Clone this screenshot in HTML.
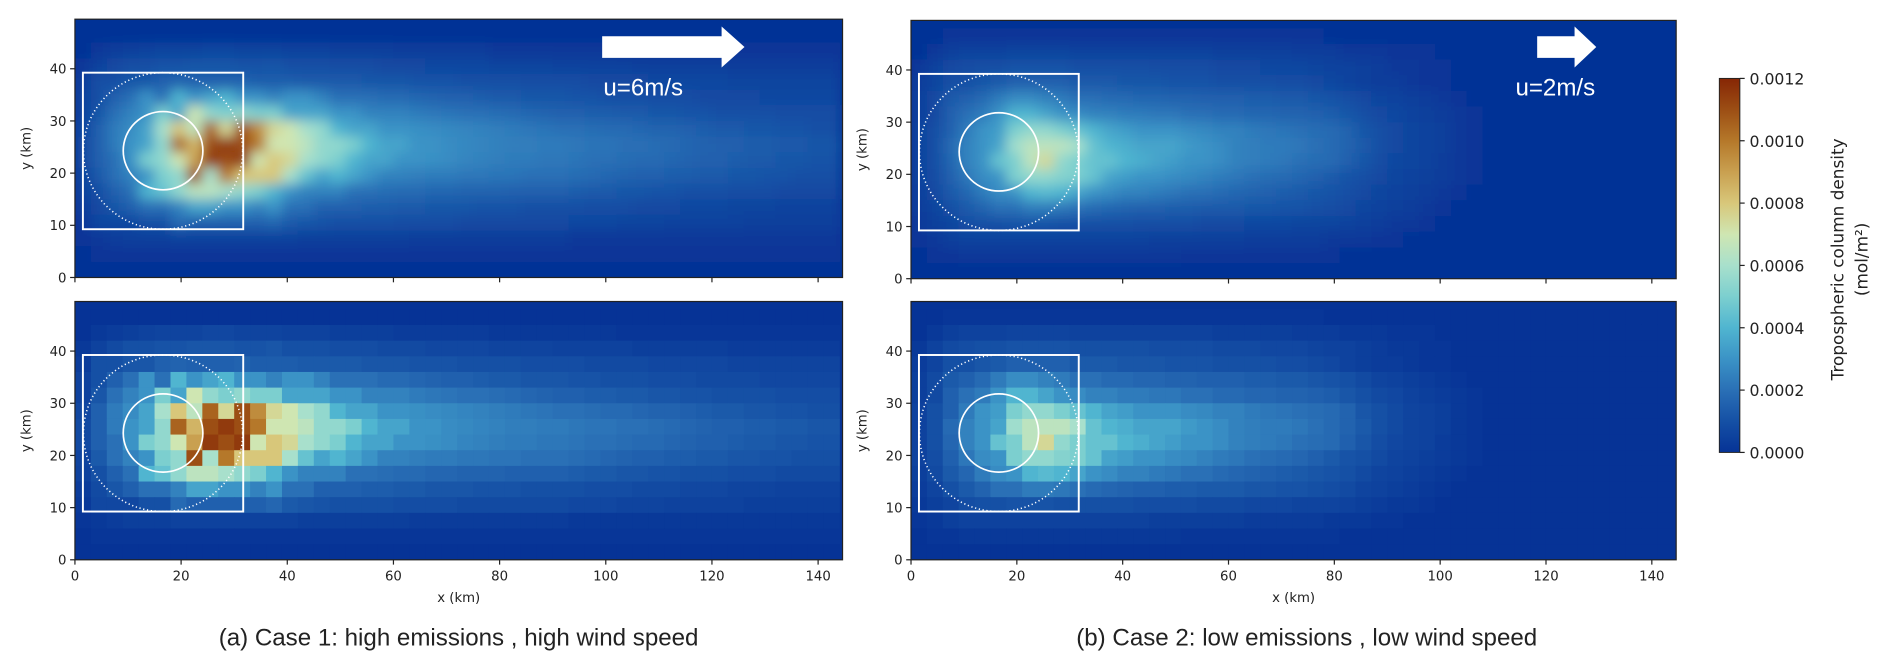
<!DOCTYPE html>
<html><head><meta charset="utf-8">
<style>
html,body{margin:0;padding:0;background:#fff;}
svg{display:block;}
text{font-family:"DejaVu Sans","Liberation Sans",sans-serif;}
</style></head>
<body>
<svg id="fig" width="1892" height="672" viewBox="0 0 1568 557" xmlns="http://www.w3.org/2000/svg">
<defs>
<filter id="smooth" x="-20%" y="-30%" width="140%" height="160%"><feGaussianBlur stdDeviation="5" edgeMode="duplicate"/></filter>
<linearGradient id="cbgrad" x1="0" y1="1" x2="0" y2="0">
<stop offset="0" stop-color="#063396"/><stop offset="0.0833" stop-color="#1550a5"/><stop offset="0.1667" stop-color="#2a70b6"/><stop offset="0.25" stop-color="#3b93c6"/><stop offset="0.3333" stop-color="#50b5d0"/><stop offset="0.4167" stop-color="#7ccfcf"/><stop offset="0.5" stop-color="#a8e0cc"/><stop offset="0.5833" stop-color="#cfe6b2"/><stop offset="0.6667" stop-color="#d8c77a"/><stop offset="0.75" stop-color="#c9a050"/><stop offset="0.8333" stop-color="#b5782a"/><stop offset="0.9167" stop-color="#9c4e14"/><stop offset="1" stop-color="#862605"/>
</linearGradient>
</defs>
<g id="plots"></g>
<g>
<rect x="1425" y="65" width="17" height="310" fill="url(#cbgrad)" stroke="#222" stroke-width="0.8"/>
<g id="cbticks"></g>
<text transform="translate(1528,215) rotate(-90)" text-anchor="middle" font-size="14" fill="#222">Tropospheric column density</text>
<text transform="translate(1548,215) rotate(-90)" text-anchor="middle" font-size="14" fill="#222">(mol/m²)</text>
</g>
<text x="380" y="535" text-anchor="middle" font-size="20" fill="#222" style="font-family:'Liberation Sans',sans-serif">(a) Case 1: high emissions , high wind speed</text>
<text x="1083" y="535" text-anchor="middle" font-size="20" fill="#222" style="font-family:'Liberation Sans',sans-serif">(b) Case 2: low emissions , low wind speed</text>
</svg>
<script>
// Column density grids in units of 1e-4 mol/m^2, 3 km cells; rows listed top (y=45-48) to bottom (y=0-3)
const case1Rows = [
"0 0 0 0 0 0 0 0 0 0 0 0 0 0 0 0 0 0 0 0 0 0 0 0 0 0 0 0 0 0 0 0 0 0 0 0 0 0 0 0 0 0 0 0 0 0 0 0",
"0 0.2 0.3 0.4 0.5 0.6 0.6 0.6 0.7 0.7 0.6 0.6 0.6 0.5 0.5 0.5 0.4 0.4 0.4 0.4 0.3 0.3 0.3 0.3 0.3 0.3 0.2 0.2 0.2 0.2 0.2 0.2 0.2 0.2 0.1 0.1 0.1 0.1 0.1 0.1 0.1 0.1 0.1 0.1 0.1 0.1 0.1 0.1",
"0.2 0.5 0.8 1 1 1.1 1.1 1.2 1.2 1.2 1.1 1.1 1.2 1 1 1 0.9 0.9 0.9 0.8 0.8 0.8 0.7 0.7 0.7 0.7 0.6 0.6 0.6 0.6 0.5 0.5 0.5 0.5 0.5 0.4 0.4 0.4 0.4 0.4 0.4 0.3 0.3 0.3 0.3 0.3 0.3 0.3",
"0.3 1 1 1.2 1.2 1.5 1.6 1.5 1.5 1.5 1.6 1.4 1.4 1.4 1.3 1.3 1.3 1.3 1.2 1.2 1.2 1.1 1.1 1.1 1 1 1 1 0.9 0.9 0.9 0.9 0.8 0.8 0.8 0.8 0.7 0.7 0.7 0.7 0.7 0.6 0.6 0.6 0.6 0.6 0.6 0.6",
"0.5 1 1.5 2 3 2 4 3 3.5 4 3 3 2.5 3 3 2.5 2 2 2 1.8 1.8 1.7 1.6 1.5 1.5 1.4 1.3 1.3 1.2 1.2 1.2 1.1 1.1 1 1 1 0.9 0.9 0.9 0.8 0.8 0.8 0.8 0.7 0.7 0.7 0.7 0.7",
"0.5 1.2 2 2.5 3 5 3.5 7 5.5 5 5.5 5 5 3.5 3.5 3.5 3 3 2.5 2.5 2.5 2.3 2.2 2.1 2 2 1.9 1.8 1.7 1.6 1.5 1.5 1.4 1.4 1.3 1.3 1.2 1.2 1.1 1.1 1 1 1 1 0.9 0.9 0.9 0.9",
"0.7 1.5 2.3 2.8 3.5 6 8 6.5 10.5 7.5 11 9.5 7.5 7 6 5.5 4 3.5 3.5 3 3 2.9 2.8 2.7 2.6 2.5 2.4 2.3 2.2 2.1 2 2 1.9 1.8 1.8 1.7 1.6 1.6 1.5 1.4 1.3 1.3 1.2 1.2 1.1 1.1 1 1",
"0.8 1.5 2.3 3 3.5 5.5 10.5 8.5 11 11.5 11 10 7 7 6.5 5.5 5.5 5 4 3.5 3.5 3 3 2.8 2.7 2.6 2.5 2.4 2.4 2.3 2.3 2.2 2.1 2.1 2 2 1.9 1.8 1.7 1.6 1.5 1.5 1.4 1.4 1.3 1.3 1.2 1.2",
"0.8 1.5 2 3 5 5.5 7 9 11.5 11 11.5 7 8 7.5 6 5.5 5 4 3.5 3.5 3 3 2.9 2.8 2.6 2.5 2.4 2.3 2.3 2.2 2.2 2.1 2 2 1.9 1.8 1.8 1.7 1.6 1.5 1.5 1.4 1.3 1.3 1.2 1.2 1.1 1.1",
"0.6 1.3 2 2.5 3 5 5.5 11 6 10 8 8 8 6 4.5 3.5 4 3.5 3 2.5 2.5 2.4 2.3 2.3 2.2 2.2 2.1 2.1 2 2 2 1.9 1.8 1.7 1.6 1.5 1.5 1.4 1.4 1.3 1.3 1.2 1.2 1.1 1.1 1 1 1",
"0.5 1 1.5 2 4 4.5 5.5 6.5 6.5 6 5.5 5 4 3 2.5 2.5 2.5 2 2 1.9 1.8 1.8 1.7 1.7 1.6 1.6 1.6 1.5 1.5 1.5 1.5 1.4 1.3 1.3 1.2 1.2 1.1 1.1 1 1 1 0.9 0.9 0.9 0.8 0.8 0.8 0.8",
"0.3 0.8 1.2 1.5 2 2 2.5 3.5 3.5 3 3 2.5 3 2 2 1.5 1.5 1.5 1.4 1.4 1.3 1.3 1.2 1.2 1.2 1.1 1.1 1.1 1 1 1 1 0.9 0.9 0.9 0.8 0.8 0.8 0.7 0.7 0.7 0.6 0.6 0.6 0.5 0.5 0.5 0.5",
"0.2 0.7 0.7 0.7 1 1 1.8 1.5 1.5 1.5 1.5 1.5 1.7 1.3 1.2 1.1 1 1 1 1 0.9 0.9 0.9 0.9 0.8 0.8 0.8 0.8 0.8 0.8 0.8 0.7 0.7 0.7 0.6 0.6 0.6 0.5 0.5 0.5 0.5 0.5 0.4 0.4 0.4 0.4 0.4 0.4",
"0.1 0.2 0.3 0.4 0.4 0.4 0.5 0.5 0.5 0.5 0.5 0.5 0.5 0.5 0.4 0.4 0.4 0.4 0.4 0.4 0.4 0.3 0.3 0.3 0.3 0.3 0.3 0.3 0.3 0.3 0.3 0.2 0.2 0.2 0.2 0.2 0.2 0.2 0.2 0.2 0.2 0.2 0.2 0.2 0.2 0.2 0.2 0.2",
"0 0.1 0.1 0.1 0.1 0.1 0.1 0.1 0.1 0.1 0.1 0.1 0.1 0.1 0.1 0.1 0.1 0.1 0.1 0.1 0.1 0.1 0.1 0.1 0.1 0.1 0.1 0.1 0.1 0.1 0.1 0.1 0.1 0.1 0.1 0.1 0.1 0.1 0.1 0.1 0.1 0.1 0.1 0.1 0.1 0.1 0.1 0.1",
"0 0 0 0 0 0 0 0 0 0 0 0 0 0 0 0 0 0 0 0 0 0 0 0 0 0 0 0 0 0 0 0 0 0 0 0 0 0 0 0 0 0 0 0 0 0 0 0"
];
const case2Rows = [
"0 0 0.1 0.1 0.1 0.1 0.1 0.1 0.1 0.1 0.1 0.1 0.1 0.1 0.1 0.1 0.1 0.1 0.1 0.1 0.1 0.1 0.1 0.1 0.1 0.1 0 0 0 0 0 0 0 0 0 0 0 0 0 0 0 0 0 0 0 0 0 0",
"0 0.2 0.4 0.5 0.5 0.5 0.6 0.6 0.6 0.6 0.5 0.5 0.5 0.5 0.5 0.5 0.5 0.5 0.5 0.4 0.4 0.4 0.4 0.4 0.3 0.3 0.3 0.2 0.2 0.2 0.1 0.1 0.1 0 0 0 0 0 0 0 0 0 0 0 0 0 0 0",
"0.2 0.5 0.8 0.9 1 1 1.1 1.1 1.1 1.1 1 1 1 1 1 0.9 0.9 0.9 0.9 0.8 0.8 0.8 0.7 0.7 0.7 0.6 0.5 0.5 0.4 0.3 0.2 0.2 0.1 0.1 0 0 0 0 0 0 0 0 0 0 0 0 0 0",
"0.3 0.6 1 1 1.2 1.3 1.5 1.5 1.5 1.5 1.3 1.3 1.3 1.2 1.2 1.2 1.1 1.1 1.1 1 1 1 1 0.9 0.9 0.8 0.7 0.5 0.4 0.3 0.3 0.2 0.1 0.1 0 0 0 0 0 0 0 0 0 0 0 0 0 0",
"0.4 0.8 1.3 1.5 1.8 2.3 2.8 2.8 2.5 2.3 2 2 1.8 1.8 1.7 1.7 1.6 1.6 1.5 1.5 1.5 1.4 1.4 1.3 1.3 1.2 1.1 1 0.8 0.6 0.5 0.4 0.3 0.2 0.1 0 0 0 0 0 0 0 0 0 0 0 0 0",
"0.4 0.8 1.5 2 2.3 3 4 4 3.5 3 2.8 2.5 2.5 2.3 2.3 2.2 2.2 2 2 1.8 1.8 1.7 1.7 1.6 1.6 1.5 1.4 1.2 1 0.8 0.7 0.5 0.4 0.3 0.2 0.1 0 0 0 0 0 0 0 0 0 0 0 0",
"0.5 1 1.5 2.3 3 3.3 5 5.5 5.5 5 4.5 4 3.5 3.3 3 3 3 2.8 2.7 2.5 2.5 2.3 2.2 2.1 2 1.9 1.8 1.6 1.2 1 0.8 0.6 0.5 0.4 0.2 0.1 0 0 0 0 0 0 0 0 0 0 0 0",
"0.5 1 1.8 2.5 3 3.5 5.8 6.5 6.5 6.5 6 4.5 4 3.8 3.5 3.5 3.5 3.2 3 2.8 2.5 2.4 2.3 2.3 2.2 2 1.8 1.6 1.3 1 0.8 0.6 0.5 0.4 0.2 0.1 0 0 0 0 0 0 0 0 0 0 0 0",
"0.5 1 1.7 2.5 3 4.5 5 6.5 7.5 5.5 5 4.5 4.5 4 3.8 3.5 3.3 3 3 2.8 2.5 2.4 2.3 2.2 2 1.9 1.8 1.5 1.2 0.9 0.7 0.6 0.5 0.3 0.2 0.1 0 0 0 0 0 0 0 0 0 0 0 0",
"0.5 0.9 1.5 2.2 2.8 3 5 5.5 5.5 5.2 5 4.5 3.5 3.3 3 3 2.8 2.7 2.5 2.3 2.2 2 1.9 1.8 1.7 1.5 1.3 1.1 1 0.8 0.6 0.5 0.4 0.3 0.2 0.1 0 0 0 0 0 0 0 0 0 0 0 0",
"0.4 0.8 1.3 1.7 2.3 2.8 3 4 4.2 4 3.5 3 2.8 2.5 2.5 2.3 2.2 2 2 1.8 1.7 1.6 1.5 1.4 1.3 1.2 1.1 1 0.8 0.6 0.5 0.4 0.3 0.2 0.1 0 0 0 0 0 0 0 0 0 0 0 0 0",
"0.3 0.6 1 1.3 1.6 2 2 2.3 2.3 2.2 2 1.8 1.7 1.6 1.5 1.5 1.4 1.4 1.3 1.3 1.3 1.2 1.2 1.1 1.1 1 0.9 0.8 0.6 0.5 0.4 0.3 0.2 0.1 0 0 0 0 0 0 0 0 0 0 0 0 0 0",
"0.2 0.4 0.6 0.9 1 1 1.1 1.1 1.1 1 1 1 1 1 0.9 0.9 0.9 0.9 0.8 0.8 0.8 0.7 0.7 0.7 0.6 0.6 0.6 0.5 0.4 0.3 0.2 0.2 0.1 0 0 0 0 0 0 0 0 0 0 0 0 0 0 0",
"0.1 0.2 0.4 0.5 0.5 0.5 0.5 0.5 0.5 0.5 0.5 0.5 0.5 0.5 0.5 0.4 0.4 0.4 0.4 0.4 0.4 0.3 0.3 0.3 0.3 0.3 0.2 0.2 0.2 0.1 0.1 0 0 0 0 0 0 0 0 0 0 0 0 0 0 0 0 0",
"0 0.1 0.1 0.2 0.2 0.2 0.2 0.2 0.2 0.2 0.2 0.2 0.2 0.2 0.2 0.2 0.2 0.1 0.1 0.1 0.1 0.1 0.1 0.1 0.1 0.1 0.1 0 0 0 0 0 0 0 0 0 0 0 0 0 0 0 0 0 0 0 0 0",
"0 0 0 0 0 0 0 0 0 0 0 0 0 0 0 0 0 0 0 0 0 0 0 0 0 0 0 0 0 0 0 0 0 0 0 0 0 0 0 0 0 0 0 0 0 0 0 0"
];
const xTickValues = [0, 20, 40, 60, 80, 100, 120, 140];
const yTickValues = [0, 10, 20, 30, 40];
const cbTickLabels = ["0.0000", "0.0002", "0.0004", "0.0006", "0.0008", "0.0010", "0.0012"];
const cbTickValues = [0, 2, 4, 6, 8, 10, 12];
const windLabels = ["u=6m/s", "u=2m/s"];
const cellKm = 3;

const cmapStops = ["#063396","#1550a5","#2a70b6","#3b93c6","#50b5d0","#7ccfcf","#a8e0cc","#cfe6b2","#d8c77a","#c9a050","#b5782a","#9c4e14","#862605"];
function hex(c){return [parseInt(c.substr(1,2),16),parseInt(c.substr(3,2),16),parseInt(c.substr(5,2),16)];}
function cmap(v){
  v=Math.max(0,Math.min(12,v));
  const i=Math.min(11,Math.floor(v)), f=v-i;
  const a=hex(cmapStops[i]), b=hex(cmapStops[i+1]);
  return 'rgb('+a.map((x,k)=>Math.round(x+(b[k]-x)*f)).join(',')+')';
}
const NS="http://www.w3.org/2000/svg";
function mk(tag,attrs,parent){const e=document.createElementNS(NS,tag);for(const k in attrs)e.setAttribute(k,attrs[k]);if(parent)parent.appendChild(e);return e;}

const XMAX=144.6, YMAX=49.5;
const panels=[
 {key:'case1-snapshot',x0:62,kx:4.4,y0:230,ky:4.325,rows:case1Rows,smooth:true,labels:false,wind:0,arrow:[499,598,617]},
 {key:'case1-gridded',x0:62,kx:4.4,y0:464,ky:4.325,rows:case1Rows,smooth:false,labels:true},
 {key:'case2-snapshot',x0:755,kx:4.386,y0:231,ky:4.325,rows:case2Rows,smooth:true,labels:false,wind:1,arrow:[1274,1305,1323]},
 {key:'case2-gridded',x0:755,kx:4.386,y0:464,ky:4.325,rows:case2Rows,smooth:false,labels:true}
];
const plots=document.getElementById('plots');
panels.forEach((p,pi)=>{
  const xs=km=>p.x0+km*p.kx;
  const ys=km=>p.y0-km*p.ky;
  const g=mk('g',{},plots);
  
  
  const cid='clip'+pi;
  const cp=mk('clipPath',{id:cid},g);
  mk('rect',{x:xs(0),y:ys(YMAX),width:xs(XMAX)-xs(0),height:ys(0)-ys(YMAX)},cp);
  const inner=mk('g',{'clip-path':'url(#'+cid+')'},g);
  const hm=mk('g',p.smooth?{filter:'url(#smooth)'}:{},inner);
  
  
  const bg=mk('rect',{x:xs(-10),y:ys(YMAX+10),width:xs(XMAX+10)-xs(-10),height:ys(-10)-ys(YMAX+10),fill:cmap(0)},hm);
  
  
  const nr=p.rows.length;
  p.rows.forEach((rowStr,ri)=>{
    const vals=rowStr.trim().split(/\s+/).map(Number);
    const yLo=(nr-1-ri)*cellKm, yHi=yLo+cellKm;
    vals.forEach((v,ci)=>{
      const x1=ci*cellKm, x2=x1+cellKm;
      const c=mk('rect',{x:xs(x1),y:ys(yHi),width:xs(x2)-xs(x1)+0.4,height:ys(yLo)-ys(yHi)+0.4,fill:cmap(v)},hm);
      
      
    });
  });
  const sq=mk('rect',{x:xs(1.5),y:ys(39.25),width:xs(31.7)-xs(1.5),height:ys(9.25)-ys(39.25),fill:'none',stroke:'#fff','stroke-width':1.6},inner);
  
  
  const outer=mk('ellipse',{cx:xs(16.6),cy:ys(24.25),rx:15*p.kx,ry:15*p.ky,fill:'none',stroke:'#fff','stroke-width':1.3,'stroke-dasharray':'1 2.2'},inner);
  
  
  const innerC=mk('ellipse',{cx:xs(16.6),cy:ys(24.3),rx:7.5*p.kx,ry:7.5*p.ky,fill:'none',stroke:'#fff','stroke-width':1.4},inner);
  
  
  if(p.wind!==undefined){
    const a=p.arrow;
    const ar=mk('polygon',{points:`${a[0]},30 ${a[1]},30 ${a[1]},22 ${a[2]},39 ${a[1]},56 ${a[1]},48 ${a[0]},48`,fill:'#fff'},g);
    
    
    const wt=mk('text',{x:p.wind===0?500:1256,y:79,'font-size':20,fill:'#fff',style:"font-family:'Liberation Sans',sans-serif"},g);
    
    
    wt.textContent=windLabels[p.wind];
  }
  const fr=mk('rect',{x:xs(0),y:ys(YMAX),width:xs(XMAX)-xs(0),height:ys(0)-ys(YMAX),fill:'none',stroke:'#222','stroke-width':1},g);
  
  
  xTickValues.forEach(t=>{
    const tk=mk('line',{x1:xs(t),x2:xs(t),y1:ys(0),y2:ys(0)+4,stroke:'#222','stroke-width':1},g);
    
    
    if(p.labels){
      const tl=mk('text',{x:xs(t),y:ys(0)+17,'text-anchor':'middle','font-size':11,fill:'#222'},g);
      
      
      tl.textContent=t;
    }
  });
  yTickValues.forEach(t=>{
    const tk=mk('line',{x1:xs(0)-4,x2:xs(0),y1:ys(t),y2:ys(t),stroke:'#222','stroke-width':1},g);
    
    
    const tl=mk('text',{x:xs(0)-7,y:ys(t)+4,'text-anchor':'end','font-size':11,fill:'#222'},g);
    
    
    tl.textContent=t;
  });
  const yl=mk('text',{transform:`translate(${xs(0)-37},${ys(YMAX/2)}) rotate(-90)`,'text-anchor':'middle','font-size':11,fill:'#222'},g);
  
  
  yl.textContent='y (km)';
  if(p.labels){
    const xl=mk('text',{x:(xs(0)+xs(XMAX))/2,y:ys(0)+35,'text-anchor':'middle','font-size':11,fill:'#222'},g);
    
    
    xl.textContent='x (km)';
  }
});
const cbt=document.getElementById('cbticks');
cbTickValues.forEach((v,i)=>{
  const y=375-v/12*310;
  const tk=mk('line',{x1:1442,x2:1446,y1:y,y2:y,stroke:'#222','stroke-width':1},cbt);
  
  
  const tl=mk('text',{x:1450,y:y+5,'font-size':13,fill:'#222'},cbt);
  
  
  tl.textContent=cbTickLabels[i];
});
</script>
</body></html>
